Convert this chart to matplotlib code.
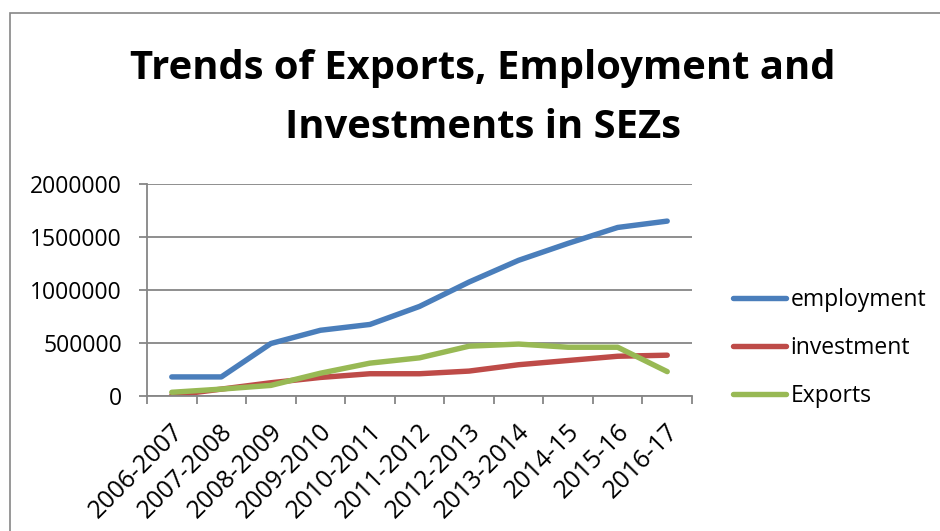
import matplotlib.pyplot as plt
import matplotlib.patches as mpatches
import matplotlib.transforms as mtransforms
import numpy as np

plt.rcParams['font.family'] = ['Open Sans', 'DejaVu Sans']

years = ["2006-2007", "2007-2008", "2008-2009", "2009-2010", "2010-2011",
         "2011-2012", "2012-2013", "2013-2014", "2014-15", "2015-16", "2016-17"]
employment = [180000, 180000, 495000, 620000, 675000, 845000,
              1075000, 1280000, 1440000, 1590000, 1650000]
investment = [5000, 65000, 125000, 175000, 210000, 210000,
              235000, 295000, 335000, 375000, 385000]
exports = [35000, 65000, 100000, 215000, 310000, 360000,
           470000, 490000, 460000, 460000, 230000]

title_lines = ["Trends of Exports, Employment and", "Investments in SEZs"]

W, H = 940, 531
fig = plt.figure(figsize=(9.4, 5.31), dpi=100)
ax = fig.add_axes([147 / W, 1 - 396 / H, 545 / W, 212 / H])

grey = '#868686'
x = np.arange(len(years))
ax.plot(x, employment, color='#4A7EBB', lw=3.9, solid_capstyle='round', solid_joinstyle='round', label='employment')
ax.plot(x, investment, color='#BE4B48', lw=3.9, solid_capstyle='round', solid_joinstyle='round', label='investment')
ax.plot(x, exports, color='#98B954', lw=3.9, solid_capstyle='round', solid_joinstyle='round', label='Exports')

ax.set_xlim(-0.5, len(years) - 0.5)
ax.set_ylim(0, 2000000)
ax.set_yticks(np.arange(0, 2000001, 500000))
ax.set_yticklabels([str(v) for v in range(0, 2000001, 500000)])
ax.yaxis.grid(True, color=grey, lw=1.3)
ax.set_axisbelow(True)

# ticks sit on the category boundaries
ax.set_xticks(np.arange(-0.5, len(years), 1.0))
ax.set_xticklabels([])
ax.tick_params(axis='x', length=6, width=1.3, color=grey)
ax.tick_params(axis='y', length=6, width=1.3, color=grey, pad=12, labelsize=16.5)

# category labels, rotated like excel does it (end of text under the category)
shift = mtransforms.ScaledTranslation(7.5 / 100, -32 / 100, fig.dpi_scale_trans)
for xi, lab in zip(x, years):
    ax.text(xi, 0, lab, transform=ax.get_xaxis_transform() + shift,
            rotation=45, rotation_mode='anchor', ha='right', va='center',
            fontsize=18, clip_on=False)

for s in ['top', 'right']:
    ax.spines[s].set_visible(False)
for s in ['left', 'bottom']:
    ax.spines[s].set_color(grey)
    ax.spines[s].set_linewidth(1.3)

fig.text(483 / W, 1 - 79 / H, title_lines[0], ha='center', va='baseline',
         fontsize=28.8, fontweight='bold')
fig.text(483 / W, 1 - 138 / H, title_lines[1], ha='center', va='baseline',
         fontsize=28.8, fontweight='bold')

ax.legend(loc='center left', bbox_to_anchor=(733 / W, 1 - 348 / H),
          bbox_transform=fig.transFigure, frameon=False, fontsize=16.5,
          handlelength=2.3, handletextpad=0.2, labelspacing=1.04,
          borderpad=0, borderaxespad=0)

fig.patches.append(mpatches.Rectangle((10 / W, -0.1), 1.0, 1 - 13 / H + 0.1,
                                      transform=fig.transFigure, fill=False,
                                      edgecolor=grey, lw=1.2))

fig.savefig('out.png', dpi=100, facecolor='white')
